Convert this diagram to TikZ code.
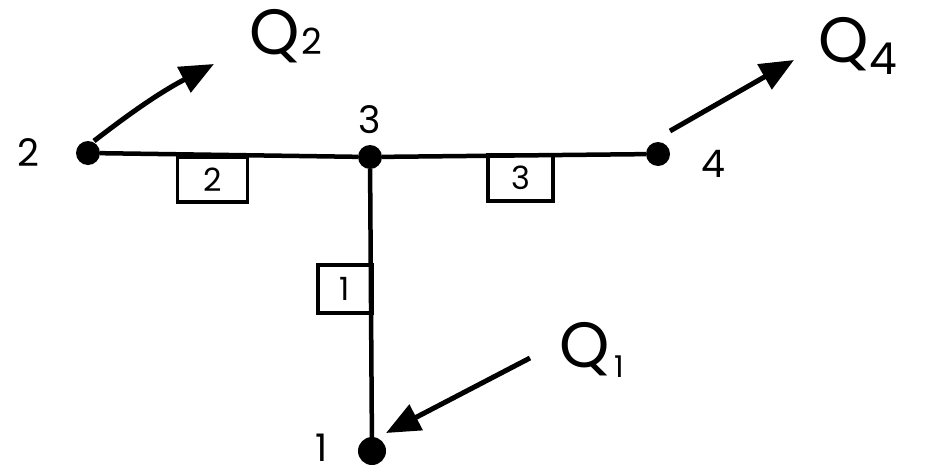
\documentclass[tikz,border=0pt]{standalone}
\usepackage{fontspec}
\setmainfont{Poppins}
\usetikzlibrary{arrows.meta}
\begin{document}
\begin{tikzpicture}[x=1pt,y=-1pt,
  edge/.style={line width=4.5pt},
  dot/.style={circle,fill=black,inner sep=0pt,minimum size=24pt},
  numlabel/.style={font=\fontsize{38}{38}\selectfont},
  elbox/.style={draw,line width=3.5pt,inner sep=0pt,font=\fontsize{32}{32}\selectfont},
  qlabel/.style={font=\fontsize{64}{64}\selectfont},
  force/.style={line width=5pt,-{Triangle[length=34pt,width=28pt]}}]
\useasboundingbox (0,0) rectangle (933,474);
% joints
\node[dot] (n2) at (88,153) {};
\node[dot] (n3) at (370,157) {};
\node[dot] (n4) at (658,154) {};
\node[dot,minimum width=28pt,minimum height=22pt] (n1) at (372,451) {};
% joint labels
\node[numlabel] (l2) at (28,153) {2};
\node[numlabel] (l3) at (370,120) {3};
\node[numlabel] (l4) at (713,164) {4};
\node[numlabel,inner sep=0pt] (l1) at (322,448) {1};
% members
\draw[edge] (n2) -- (n3);
\draw[edge] (n3) -- (n4);
\draw[edge] (n3) -- (n1);
% element boxes
\node[elbox,minimum width=70pt,minimum height=45pt] (e2) at (212.5,179.5) {2};
\node[elbox,minimum width=65pt,minimum height=46pt] (e3) at (520.5,178) {3};
\node[elbox,minimum width=54pt,minimum height=48pt] (e1) at (345,289) {1};
% forces
\coordinate (s2) at (94,141);
\coordinate (t2) at (214,64);
\coordinate (s4) at (670,131);
\coordinate (t4) at (794,60);
\coordinate (s1) at (530,358);
\coordinate (t1) at (386,433);
\draw[force] (s2) to[bend left=5] (t2);
\draw[force] (s4) -- (t4);
\draw[force] (s1) -- (t1);
% force labels
\node[qlabel] (q2) at (286,36) {Q\kern1pt\raisebox{0pt}{\fontsize{36}{36}\selectfont 2}};
\node[qlabel] (q4) at (858,46) {Q\kern1pt\raisebox{-12pt}{\fontsize{44}{44}\selectfont 4}};
\node[qlabel] (q1) at (592,350) {Q\kern4pt\raisebox{-10pt}{\fontsize{30}{30}\selectfont 1}};
\end{tikzpicture}
\end{document}
